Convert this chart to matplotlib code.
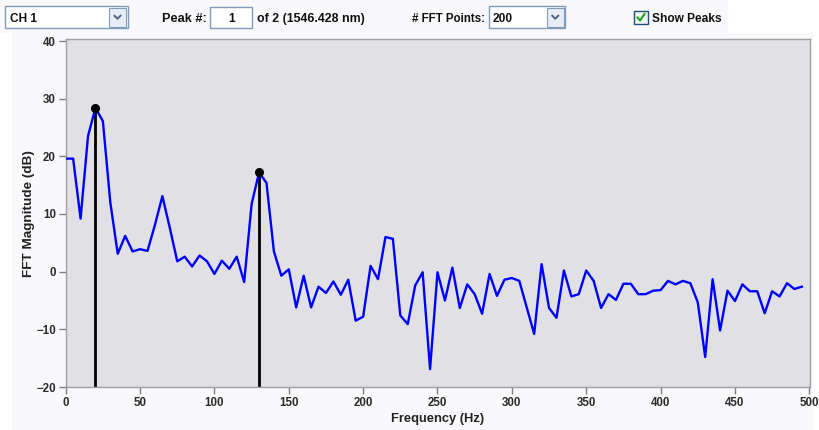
import numpy as np
import matplotlib
matplotlib.use("Agg")
import matplotlib.pyplot as plt
from matplotlib.patches import Rectangle
from matplotlib.lines import Line2D

# ---- data ----
freqs = np.arange(0, 500, 5)  # frequency bins (Hz)
magnitude_db = [
    19.6, 19.6, 9.2, 23.5, 28.4, 26.1, 12.0, 3.1, 6.2, 3.5,
    3.9, 3.6, 8.1, 13.1, 7.6, 1.8, 2.6, 0.9, 2.8, 1.8,
    -0.4, 1.9, 0.5, 2.6, -1.8, 11.7, 17.2, 15.4, 3.5, -0.7,
    0.4, -6.2, -0.7, -6.2, -2.6, -3.7, -1.7, -4.0, -1.4, -8.5,
    -7.8, 1.0, -1.3, 6.0, 5.7, -7.6, -9.1, -2.4, -0.1, -16.9,
    -0.1, -5.0, 0.7, -6.3, -2.2, -3.9, -7.3, -0.4, -4.2, -1.4,
    -1.1, -1.6, -6.2, -10.8, 1.3, -6.3, -8.0, 0.2, -4.3, -3.9,
    0.2, -1.6, -6.3, -3.9, -4.9, -2.1, -2.1, -3.9, -3.9, -3.3,
    -3.2, -1.6, -2.2, -1.6, -2.0, -5.3, -14.8, -1.3, -10.2, -3.3,
    -5.1, -2.2, -3.4, -3.4, -7.2, -3.4, -4.3, -2.0, -3.0, -2.6,
]
peak_freqs = [20, 130]
peak_vals = [28.4, 17.2]
x_ticks = [0, 50, 100, 150, 200, 250, 300, 350, 400, 450, 500]
y_ticks = [-20, -10, 0, 10, 20, 30, 40]

W, H = 819, 430
fig = plt.figure(figsize=(W / 100, H / 100), dpi=100)
fig.patch.set_facecolor("#FFFFFF")

FONT = "Liberation Sans"

def fx(px):
    return px / W

def fy(py):
    return 1 - py / H

def rect(x0, y0, x1, y1, fc, ec, lw=1, z=5):
    fig.patches.append(Rectangle((fx(x0), fy(y1)), fx(x1 - x0), (y1 - y0) / H,
                                 transform=fig.transFigure, facecolor=fc,
                                 edgecolor=ec, linewidth=lw, zorder=z))

# light panels behind the chart and control bar
rect(0, 0, 728, 33, "#F9F9FC", "none", lw=0, z=-2)
rect(12, 33, 813, 430, "#F9F9FC", "none", lw=0, z=-2)

# plot area (pixel coords from top-left)
L, R, T, B = 65.7, 810.0, 39.3, 387.0
ax = fig.add_axes([fx(L), fy(B), fx(R - L), (B - T) / H])
ax.set_zorder(1)
ax.set_facecolor("#E0E0E5")
ax.set_xlim(0, 500 * (R - L) / (809.3 - L))
ax.set_ylim(-20, 40 + 60 * (41.0 - T) / (B - 41.0))

ax.vlines(peak_freqs, -20, peak_vals, colors="black", linewidth=2, zorder=2)
ax.plot(freqs, magnitude_db, color="#0000FF", linewidth=1.7, zorder=3)
ax.plot(peak_freqs, peak_vals, "o", color="black", markersize=5.5, zorder=4)

ax.set_xticks(x_ticks)
ax.set_yticks(y_ticks)
ax.tick_params(direction="out", length=5, width=1, color="#808080",
               labelsize=8.3, labelcolor="#2A2A2A", pad=2)
for lab in ax.get_xticklabels() + ax.get_yticklabels():
    lab.set_fontfamily(FONT)
    lab.set_fontweight("bold")
for s in ax.spines.values():
    s.set_color("#A0A0A0")
    s.set_linewidth(1)

ax.set_xlabel("Frequency (Hz)", fontfamily=FONT, fontweight="bold",
              fontsize=9.3, color="#222222", labelpad=3)
ax.set_ylabel("FFT Magnitude (dB)", fontfamily=FONT, fontweight="bold",
              fontsize=9.7, color="#222222", labelpad=1)

# ---- top control bar ----
def txt(x, y, s, ha="left", size=8.6):
    fig.text(fx(x), fy(y), s, ha=ha, va="center_baseline", fontsize=size,
             fontfamily=FONT, fontweight="bold", color="#111111", zorder=10)

def arrow_button(x0, y0, x1, y1):
    rect(x0, y0, x1, y1, "#E8ECF4", "#7F9DB9", lw=0.8, z=6)
    cx, cy = (x0 + x1) / 2, (y0 + y1) / 2
    fig.lines.append(Line2D([fx(cx - 3), fx(cx), fx(cx + 3)],
                            [fy(cy - 1.5), fy(cy + 1.5), fy(cy - 1.5)],
                            transform=fig.transFigure, color="#4D6185",
                            linewidth=1.4, zorder=7))

# channel combo
rect(5, 6.5, 127.5, 28, "#FFFFFF", "#7F9DB9")
arrow_button(109, 8, 126, 26.5)
txt(9.5, 17.5, "CH 1")

txt(162.5, 17.5, "Peak #:", size=9.2)
rect(210.5, 7, 252.5, 28, "#FFFFFF", "#7F9DB9")
txt(231.5, 17.5, "1", ha="center")
txt(257, 17.5, "of 2 (1546.428 nm)", size=8.9)

txt(411.5, 17.5, "# FFT Points:", size=8.3)
rect(489, 6.5, 565, 28, "#FFFFFF", "#7F9DB9")
arrow_button(547, 8, 563.5, 26.5)
txt(492.5, 17.5, "200")

# checkbox
rect(634, 11, 647.5, 24, "#F4F4F0", "#1C5180")
fig.lines.append(Line2D([fx(637.5), fx(640), fx(644.5)],
                        [fy(17.5), fy(20.5), fy(14)],
                        transform=fig.transFigure, color="#21A121",
                        linewidth=1.5, zorder=7))
txt(652, 17.5, "Show Peaks", size=8.6)

fig.savefig("out.png", dpi=100, facecolor=fig.get_facecolor())
